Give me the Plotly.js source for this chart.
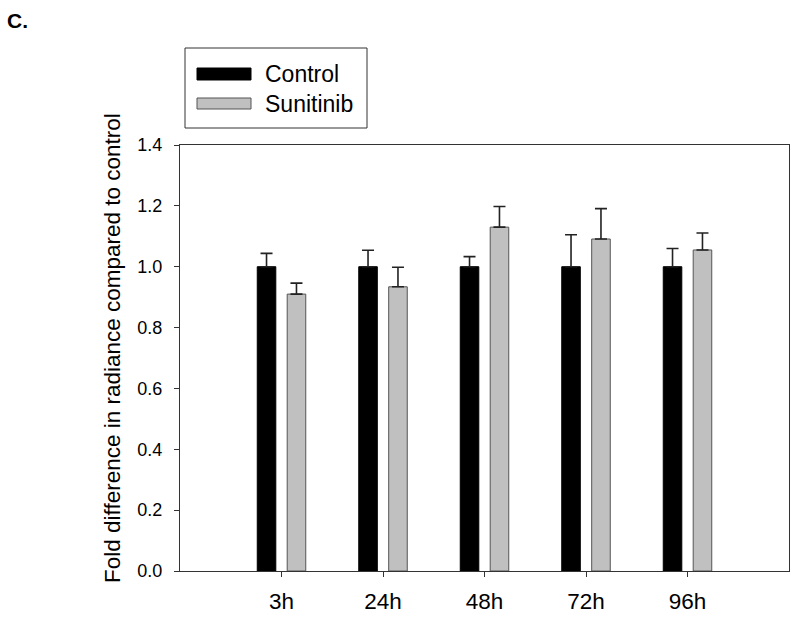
<!DOCTYPE html>
<html>
<head>
<meta charset="utf-8">
<script src="https://cdn.plot.ly/plotly-3.0.1.min.js"></script>
<style>
  html, body { margin: 0; padding: 0; background: #fff; }
  #chart { width: 800px; height: 619px; }
</style>
</head>
<body>
<div id="chart"></div>
<script>
// ---- data ----
const categories = ["3h", "24h", "48h", "72h", "96h"];
const seriesNames = ["Control", "Sunitinib"];
const controlValues = [1.00, 1.00, 1.00, 1.00, 1.00];
const controlErrors = [0.044, 0.054, 0.033, 0.105, 0.060];
const sunitinibValues = [0.910, 0.934, 1.130, 1.091, 1.055];
const sunitinibErrors = [0.036, 0.064, 0.068, 0.100, 0.056];
const yTicks = [0, 0.2, 0.4, 0.6, 0.8, 1.0, 1.2, 1.4];
const yTitle = "Fold difference in radiance compared to control";
const panelLabel = "C.";

// ---- layout helpers ----
const W = 800, H = 619;
const M = { l: 180, r: 11, t: 145, b: 48 };
const pw = W - M.l - M.r, ph = H - M.t - M.b;
const px2x = px => (px - M.l) / pw;
const px2y = py => (H - M.b - py) / ph;
const FONT = "Arial, 'Liberation Sans', Helvetica, sans-serif";
const zeros = categories.map(() => 0);

const traces = [
  {
    type: "bar", name: seriesNames[0], x: categories, y: controlValues,
    marker: { color: "#000000", line: { color: "#000000", width: 1 } },
    error_y: { type: "data", array: controlErrors, arrayminus: zeros, symmetric: false,
               color: "#222222", thickness: 1.6, width: 6 },
    showlegend: false, hoverinfo: "x+y"
  },
  {
    type: "bar", name: seriesNames[1], x: categories, y: sunitinibValues,
    marker: { color: "#c0c0c0", line: { color: "#555555", width: 1 } },
    error_y: { type: "data", array: sunitinibErrors, arrayminus: zeros, symmetric: false,
               color: "#222222", thickness: 1.6, width: 6 },
    showlegend: false, hoverinfo: "x+y"
  }
];

// manual legend (wide swatches like the reference)
const shapes = [
  { type: "rect", xref: "paper", yref: "paper",
    x0: px2x(185), x1: px2x(367), y0: px2y(48), y1: px2y(128),
    line: { color: "#333333", width: 1 }, fillcolor: "rgba(0,0,0,0)" },
  { type: "rect", xref: "paper", yref: "paper",
    x0: px2x(197), x1: px2x(251), y0: px2y(68), y1: px2y(80),
    line: { color: "#000000", width: 1 }, fillcolor: "#000000" },
  { type: "rect", xref: "paper", yref: "paper",
    x0: px2x(197), x1: px2x(251), y0: px2y(98), y1: px2y(109),
    line: { color: "#555555", width: 1 }, fillcolor: "#c0c0c0" }
];

const annotations = [
  { text: seriesNames[0], xref: "paper", yref: "paper", x: px2x(263), y: px2y(74),
    xanchor: "left", yanchor: "middle", showarrow: false,
    font: { family: FONT, size: 23, color: "#000" } },
  { text: seriesNames[1], xref: "paper", yref: "paper", x: px2x(263), y: px2y(104),
    xanchor: "left", yanchor: "middle", showarrow: false,
    font: { family: FONT, size: 23, color: "#000" } },
  { text: "<b>" + panelLabel + "</b>", xref: "paper", yref: "paper", x: px2x(5), y: px2y(20),
    xanchor: "left", yanchor: "middle", showarrow: false,
    font: { family: FONT, size: 21, color: "#000" } },
  { text: yTitle, xref: "paper", yref: "paper", x: px2x(112), y: px2y(348),
    xanchor: "center", yanchor: "middle", textangle: -90, showarrow: false,
    font: { family: FONT, size: 22.5, color: "#000" } }
];

const layout = {
  width: W, height: H,
  margin: M,
  paper_bgcolor: "#ffffff", plot_bgcolor: "#ffffff",
  font: { family: FONT, color: "#000" },
  barmode: "group", bargap: 0.41, bargroupgap: 0.38,
  showlegend: false,
  xaxis: {
    type: "category", range: [-1, 5],
    showline: true, linecolor: "#333333", linewidth: 1, mirror: true,
    ticks: "outside", ticklen: 5, tickcolor: "#333333",
    ticklabelstandoff: 5,
    tickfont: { family: FONT, size: 22.5, color: "#000" },
    showgrid: false, zeroline: false, fixedrange: true
  },
  yaxis: {
    range: [0, 1.4], tickvals: yTicks, tickformat: ".1f",
    showline: true, linecolor: "#333333", linewidth: 1, mirror: true,
    ticks: "outside", ticklen: 5, tickcolor: "#333333",
    ticklabelstandoff: 8,
    tickfont: { family: FONT, size: 18, color: "#000" },
    showgrid: false, zeroline: false, fixedrange: true
  },
  shapes: shapes,
  annotations: annotations
};

Plotly.newPlot("chart", traces, layout, { displayModeBar: false, staticPlot: true });
</script>
</body>
</html>
